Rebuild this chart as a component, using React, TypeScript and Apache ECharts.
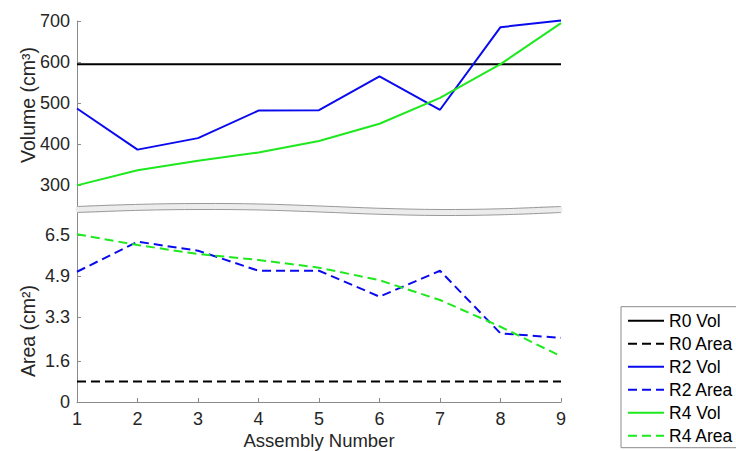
import React, { useEffect, useRef } from "react";
import * as echarts from "echarts";

const assemblies = [1, 2, 3, 4, 5, 6, 7, 8, 9];
const r0Vol = [595, 595, 595, 595, 595, 595, 595, 595, 595];
const r2Vol = [487, 387, 415, 482, 483, 565, 484, 685, 701];
const r4Vol = [300, 337, 360, 380, 408, 450, 513, 595, 695];
const r0Area = [0.8, 0.8, 0.8, 0.8, 0.8, 0.8, 0.8, 0.8, 0.8];
const r2Area = [5.07, 6.24, 5.89, 5.11, 5.11, 4.1, 5.11, 2.67, 2.5];
const r4Area = [6.53, 6.11, 5.76, 5.53, 5.23, 4.74, 3.97, 2.93, 1.78];
const volTicks = [300, 400, 500, 600, 700];
const areaTicks = [0, 1.6, 3.3, 4.9, 6.5];

const FONT = "Liberation Sans, Arial, Helvetica, sans-serif";
const TXT = "#262626";
const AX = "#8a8a8a";
const BLUE = "#0a0aee";
const GREEN = "#1ee81e";
const BLACK = "#000000";

// break band (decorative) top edge
const bandTop: number[][] = [
  [77, 206.5], [140, 204.3], [200, 203.5], [260, 204], [320, 206],
  [380, 208.3], [440, 209.5], [500, 208.8], [561, 206.5],
];
const BAND_T = 6;

function pts(arr: number[]) {
  return assemblies.map((x, i) => [x, arr[i]]);
}

export default function App() {
  const ref = useRef<HTMLDivElement>(null);
  useEffect(() => {
    if (!ref.current) return;
    const chart = echarts.init(ref.current, null, { renderer: "svg" });
    const bandBottom = bandTop.map(([x, y]) => [x, y + BAND_T]);
    const bandPoly = [...bandTop, ...bandBottom.slice().reverse()];
    const axisCommon = {
      axisLine: { show: true, lineStyle: { color: AX, width: 1 } },
      axisTick: { show: true, inside: true, length: 4, lineStyle: { color: AX } },
      splitLine: { show: false },
      axisLabel: { color: TXT, fontSize: 18, fontFamily: FONT, margin: 7 },
    };
    const line = (name: string, data: number[], color: string, dashed: boolean, idx: number) => ({
      name,
      type: "line",
      xAxisIndex: idx,
      yAxisIndex: idx,
      data: pts(data),
      symbol: "none",
      clip: false,
      lineStyle: { color, width: 2, type: dashed ? [9, 5] : "solid" },
      itemStyle: { color },
    });
    chart.setOption({
      animation: false,
      backgroundColor: "#ffffff",
      grid: [
        { left: 77, right: 175, top: 21, height: 187 },
        { left: 77, right: 175, top: 213, height: 189 },
      ],
      xAxis: [
        { type: "value", gridIndex: 0, min: 1, max: 9, interval: 1, show: false },
        {
          type: "value", gridIndex: 1, min: 1, max: 9, interval: 1,
          ...axisCommon,
          axisLabel: { ...axisCommon.axisLabel, margin: 8 },
          name: "Assembly Number",
          nameLocation: "middle",
          nameGap: 29,
          nameTextStyle: { color: TXT, fontSize: 18.5, fontFamily: FONT },
        },
      ],
      yAxis: [
        {
          type: "value", gridIndex: 0, min: 245, max: 700,
          ...axisCommon,
          axisTick: { ...axisCommon.axisTick, customValues: volTicks },
          axisLabel: { ...axisCommon.axisLabel, customValues: volTicks },
        },
        {
          type: "value", gridIndex: 1, min: 0, max: 7.357,
          ...axisCommon,
          axisTick: { ...axisCommon.axisTick, customValues: areaTicks },
          axisLabel: { ...axisCommon.axisLabel, customValues: areaTicks, formatter: (v: number) => (v === 0 ? "0" : v.toFixed(1)) },
        },
      ],
      legend: {
        orient: "vertical",
        left: 621,
        top: 306.7,
        padding: [5, 4, 3, 6],
        itemGap: 5,
        itemWidth: 36,
        itemHeight: 14,
        borderColor: "#8c8c8c",
        borderWidth: 1,
        backgroundColor: "#ffffff",
        itemStyle: { opacity: 0 },
        textStyle: { color: "#000", fontSize: 17.5, lineHeight: 18, fontFamily: FONT },
        data: ["R0 Vol", "R0 Area", "R2 Vol", "R2 Area", "R4 Vol", "R4 Area"],
      },
      graphic: [
        {
          type: "polygon",
          shape: { points: bandPoly, smooth: 0.35 },
          style: { fill: "#ececec", stroke: null },
          z: 100,
        },
        {
          type: "polyline",
          shape: { points: bandTop, smooth: 0.35 },
          style: { stroke: "#9a9a9a", lineWidth: 1, fill: null },
          z: 101,
        },
        {
          type: "polyline",
          shape: { points: bandBottom, smooth: 0.35 },
          style: { stroke: "#9a9a9a", lineWidth: 1, fill: null },
          z: 101,
        },
        {
          type: "text",
          x: 28, y: 105, rotation: Math.PI / 2,
          style: { text: "Volume (cm³)", fill: TXT, font: `19.5px ${FONT}`, align: "center", verticalAlign: "middle" },
        },
        {
          type: "text",
          x: 28, y: 331, rotation: Math.PI / 2,
          style: { text: "Area (cm²)", fill: TXT, font: `19.5px ${FONT}`, align: "center", verticalAlign: "middle" },
        },
      ],
      series: [
        line("R0 Vol", r0Vol, BLACK, false, 0),
        line("R0 Area", r0Area, BLACK, true, 1),
        line("R2 Vol", r2Vol, BLUE, false, 0),
        line("R2 Area", r2Area, BLUE, true, 1),
        line("R4 Vol", r4Vol, GREEN, false, 0),
        line("R4 Area", r4Area, GREEN, true, 1),
      ],
    });
    return () => chart.dispose();
  }, []);
  return (
    <div
      ref={ref}
      style={{ position: "absolute", left: 0, top: 0, width: 736, height: 451, background: "#fff" }}
    />
  );
}
